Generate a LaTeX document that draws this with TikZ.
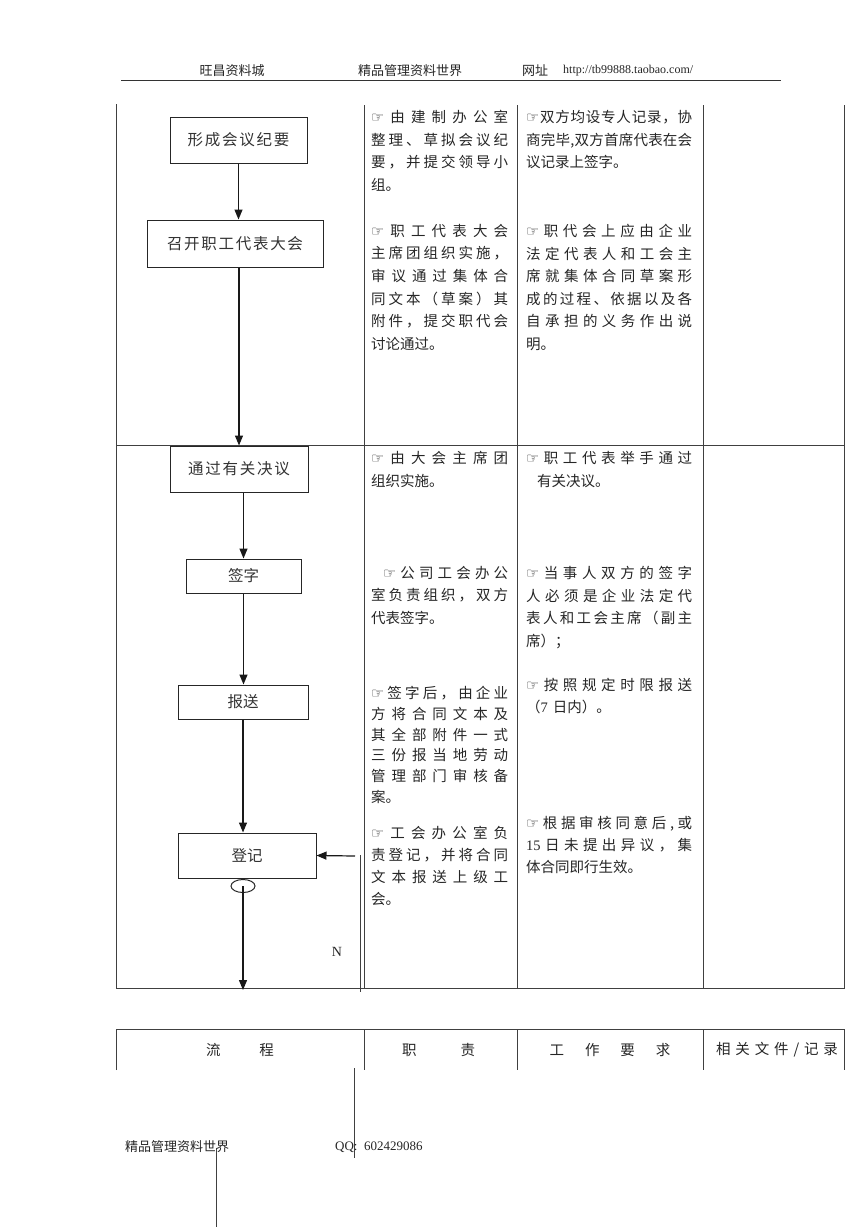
\documentclass[tikz,border=0pt]{standalone}
\usepackage{fontspec}
\setmainfont{Liberation Serif}
\newfontfamily\cjk{Noto Sans CJK SC}
\newfontfamily\djv{DejaVu Sans}
\usetikzlibrary{arrows.meta,shapes.geometric}
\setlength\parindent{0pt}
\newcommand\hand{{\djv\fontsize{14.5}{14}\selectfont ☞}}
\ExplSyntaxOn
\NewDocumentCommand\jl{O{0pt}m}{\leavevmode\hbox~to~\hsize{\hskip#1\relax\tl_map_inline:nn{#2}{{##1}\hfil}\unskip}}
\NewDocumentCommand\spread{mm}{\hbox~to~#1{\tl_map_inline:nn{#2}{{##1}\hfil}\unskip}}
\ExplSyntaxOff

\begin{document}
\begin{tikzpicture}[x=1pt,y=-1pt,
  rule/.style={line width=1pt,black!75},
  box/.style={draw=black!85,line width=1pt,inner sep=0pt,font=\fontsize{15.5}{18}\selectfont\cjk,text=black!80},
  f/.style={-{Triangle[length=10pt,width=8pt]},line width=1.2pt,black!90},
  cell/.style={anchor=north west,inner sep=0pt,text width=137pt,align=left,font=\fontsize{14.5}{22.6}\selectfont\cjk,text=black!85},
  wide/.style={cell,text width=166pt},
  head/.style={inner sep=0pt,font=\fontsize{13}{15}\selectfont\cjk,text=black!85},
  th/.style={inner sep=0pt,font=\fontsize{14.5}{16}\selectfont\cjk,text=black!85}]
\useasboundingbox[fill=white] (0,0) rectangle (868,1227);
% page header
\node[head] (h1) at (232,71) {旺昌资料城};
\node[head] (h2) at (410,71) {精品管理资料世界};
\node[head,anchor=west] (h3) at (522,71) {网址};
\node[anchor=west,inner sep=0pt,font=\fontsize{12}{14}\selectfont,text=black!85] (url) at (563,71) {http://tb99888.taobao.com/};
\draw[line width=1.6pt,black!80] (121,80.5) -- (781,80.5);
% table frame
\draw[rule] (116,104) -- (116,988) -- (844,988) -- (844,105);
\foreach \x in {364,517,703} \draw[rule] (\x,105) -- (\x,988);
\draw[rule] (116,445) -- (844,445);
% flow
\node[box,minimum width=137pt,minimum height=46pt] (memo) at (238.5,140) {\spread{102pt}{形成会议纪要}};
\node[box,minimum width=176pt,minimum height=47pt] (conv) at (235,243.5) {\spread{136pt}{召开职工代表大会}};
\node[box,minimum width=138pt,minimum height=46pt] (pass) at (239,469) {\spread{102pt}{通过有关决议}};
\node[box,minimum width=115pt,minimum height=34pt] (sign) at (243.5,576) {签字};
\node[box,minimum width=130pt,minimum height=34pt] (send) at (243,702) {报送};
\node[box,minimum width=138pt,minimum height=45pt] (reg) at (247,855.5) {登记};
\node[draw=black!85,line width=1pt,ellipse,minimum width=24pt,minimum height=13pt,inner sep=0pt] (ring) at (243,886) {};
\draw[f] (memo.south) -- (memo.south |- conv.north);
\draw[f] (pass.north |- conv.south) -- (pass.north);
\draw[f] (pass.south -| sign.north) -- (sign.north);
\draw[f] (sign.south) -- (sign.south |- send.north);
\draw[f] (send.south) -- (send.south |- reg.north);
\coordinate (down) at (243,990);
\draw[f] (ring.center) -- (down);
\coordinate (back) at (355,856);
\draw[f] (back) -- (reg.east);
\coordinate (nTop) at (360,855);
\coordinate (nBot) at (360,992);
\draw[rule] (nTop) -- (nBot);
\node[inner sep=0pt,font=\fontsize{14}{14}\selectfont,text=black!85] (n) at (337,952) {N};
% duties
\node[cell] (d1) at (371,110) {\jl{\hand 由建制办公室}\\\jl{整理、草拟会议纪}\\\jl{要，并提交领导小}\\组。};
\node[cell] (d2) at (371,224) {\jl{\hand 职工代表大会}\\\jl{主席团组织实施，}\\\jl{审议通过集体合}\\\jl{同文本（草案）其}\\\jl{附件，提交职代会}\\讨论通过。};
\node[cell] (d3) at (371,451) {\jl{\hand 由大会主席团}\\组织实施。};
\node[cell] (d4) at (371,566) {\jl[12pt]{\hand 公司工会办公}\\\jl{室负责组织，双方}\\代表签字。};
\node[cell,font=\fontsize{14.5}{20.8}\selectfont\cjk] (d5) at (371,686) {\jl{\hand 签字后，由企业}\\\jl{方将合同文本及}\\\jl{其全部附件一式}\\\jl{三份报当地劳动}\\\jl{管理部门审核备}\\案。};
\node[cell,font=\fontsize{14.5}{22}\selectfont\cjk] (d6) at (371,826) {\jl{\hand 工会办公室负}\\\jl{责登记，并将合同}\\\jl{文本报送上级工}\\会。};
% requirements
\node[wide] (r1) at (526,110) {\jl{\hand 双方均设专人记录，协}\\\jl{商完毕,双方首席代表在会}\\议记录上签字。};
\node[wide] (r2) at (526,224) {\jl{\hand 职代会上应由企业}\\\jl{法定代表人和工会主}\\\jl{席就集体合同草案形}\\\jl{成的过程、依据以及各}\\\jl{自承担的义务作出说}\\明。};
\node[wide] (r3) at (526,451) {\jl{\hand 职工代表举手通过}\\\hspace*{11pt}有关决议。};
\node[wide] (r4) at (526,566) {\jl{\hand 当事人双方的签字}\\\jl{人必须是企业法定代}\\\jl{表人和工会主席（副主}\\席）；};
\node[wide,font=\fontsize{14.5}{22}\selectfont\cjk] (r5) at (526,678) {\jl{\hand 按照规定时限报送}\\（{\rmfamily 7} 日内）。};
\node[wide,font=\fontsize{14.5}{22}\selectfont\cjk] (r6) at (526,816) {\jl{\hand 根据审核同意后,或}\\\jl{{\rmfamily 15}日未提出异议，集}\\体合同即行生效。};
% next page header row
\draw[rule] (116,1070) -- (116,1029) -- (844,1029) -- (844,1070);
\foreach \x in {364,517,703} \draw[rule] (\x,1029) -- (\x,1070);
\node[th] (t1) at (240,1050) {\spread{68pt}{流程}};
\node[th] (t2) at (438.5,1050) {\spread{73pt}{职责}};
\node[th] (t3) at (610,1050) {\spread{121pt}{工作要求}};
\node[th] (t4) at (777,1050) {\spread{122pt}{相关文件{/}记录}};
\draw[rule] (354,1068) -- (354,1158);
\draw[rule] (216,1148) -- (216,1227);
% page footer
\node[head,anchor=west] (f1) at (125,1147) {精品管理资料世界};
\node[anchor=west,inner sep=0pt,font=\fontsize{13}{15}\selectfont,text=black!85] (qq) at (335,1147) {QQ:\ \ 602429086};
\end{tikzpicture}
\end{document}
